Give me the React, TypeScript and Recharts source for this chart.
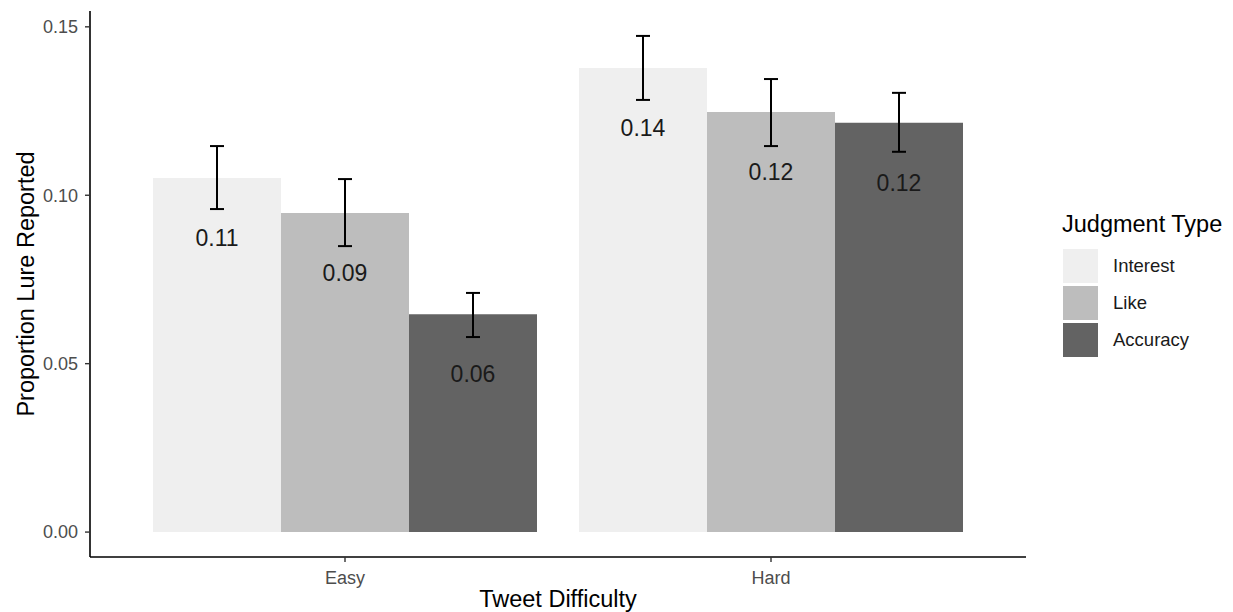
import React from 'react';
import { BarChart, Bar, XAxis, YAxis, ErrorBar, LabelList, Legend, Label } from 'recharts';

const categories = ['Easy', 'Hard'];
const seriesNames = ['Interest', 'Like', 'Accuracy'];
const seriesColors = ['#EFEFEF', '#BDBDBD', '#636363'];

const interestValues = [0.1051, 0.1378];
const interestLow = [0.0959, 0.1283];
const interestHigh = [0.1146, 0.1473];

const likeValues = [0.0947, 0.1247];
const likeLow = [0.0849, 0.1146];
const likeHigh = [0.1048, 0.1345];

const accuracyValues = [0.0647, 0.1215];
const accuracyLow = [0.0579, 0.1129];
const accuracyHigh = [0.071, 0.1304];

const yTicks = [0, 0.05, 0.1, 0.15];
const yDomain = [-0.0074, 0.1547];

const FONT = '"Liberation Sans", Arial, Helvetica, sans-serif';

const seriesValues = [interestValues, likeValues, accuracyValues];
const seriesLow = [interestLow, likeLow, accuracyLow];
const seriesHigh = [interestHigh, likeHigh, accuracyHigh];

const data = categories.map((cat, i) => {
  const row: any = { cat };
  seriesNames.forEach((name, s) => {
    const v = seriesValues[s][i];
    row[name] = v;
    row[name + '_err'] = [v - seriesLow[s][i], seriesHigh[s][i] - v];
  });
  return row;
});

const renderValueLabel = (props: any) => {
  const { x, y, width, value } = props;
  return (
    <text
      x={Number(x) + Number(width) / 2}
      y={Number(y) + 60}
      textAnchor="middle"
      dominantBaseline="central"
      fontSize={23}
      fontFamily={FONT}
      fill="#1a1a1a"
    >
      {Number(value).toFixed(2)}
    </text>
  );
};

const renderLegend = (props: any) => {
  const payload = [...(props.payload || [])].sort(
    (a: any, b: any) => seriesNames.indexOf(a.value) - seriesNames.indexOf(b.value)
  );
  return (
    <div style={{ fontFamily: FONT, color: '#000' }}>
      <div style={{ fontSize: 23.5, lineHeight: '26px', marginBottom: 10, whiteSpace: 'nowrap' }}>Judgment Type</div>
      {payload.map((p: any, i: number) => (
        <div key={i} style={{ display: 'flex', alignItems: 'center', height: 37 }}>
          <div style={{ width: 35, height: 34, background: p.color, marginRight: 15, marginLeft: 1 }} />
          <span style={{ fontSize: 18.5, color: '#1a1a1a' }}>{p.value}</span>
        </div>
      ))}
    </div>
  );
};

const YTitle = (props: any) => {
  const vb = props.viewBox || { x: 0, y: 0, width: 0, height: 0 };
  const x = vb.x + 34;
  const y = vb.y + vb.height / 2;
  return (
    <text
      x={x}
      y={y}
      transform={`rotate(-90, ${x}, ${y})`}
      textAnchor="middle"
      fontSize={23.5}
      fontFamily={FONT}
      fill="#000"
    >
      Proportion Lure Reported
    </text>
  );
};

const XTitle = (props: any) => {
  const vb = props.viewBox || { x: 0, y: 0, width: 0, height: 0 };
  return (
    <text
      x={vb.x + vb.width / 2}
      y={vb.y + 50}
      textAnchor="middle"
      fontSize={23.5}
      fontFamily={FONT}
      fill="#000"
    >
      Tweet Difficulty
    </text>
  );
};

export default function App() {
  return (
    <div style={{ position: 'absolute', left: 0, top: 0, width: 1233, height: 612, background: '#fff' }}>
      <BarChart
        width={1233}
        height={612}
        data={data}
        margin={{ top: 11, right: 207, bottom: 0, left: 0 }}
        barCategoryGap={21}
        barGap={0}
      >
        <XAxis
          dataKey="cat"
          padding={{ left: 42, right: 42 }}
          height={55}
          axisLine={{ stroke: '#000', strokeWidth: 1.6 }}
          tickLine={{ stroke: '#333', strokeWidth: 1.4 }}
          tickSize={5}
          tickMargin={9}
          tick={{ fontSize: 18, fill: '#4d4d4d', fontFamily: FONT }}
        >
          <Label content={<XTitle />} />
        </XAxis>
        <YAxis
          type="number"
          width={90}
          domain={yDomain}
          allowDataOverflow
          ticks={yTicks}
          tickFormatter={(v: number) => v.toFixed(2)}
          axisLine={{ stroke: '#000', strokeWidth: 1.6 }}
          tickLine={{ stroke: '#333', strokeWidth: 1.4 }}
          tickSize={5}
          tickMargin={7}
          tick={{ fontSize: 18, fill: '#4d4d4d', fontFamily: FONT }}
        >
          <Label content={<YTitle />} />
        </YAxis>
        <Legend
          layout="vertical"
          verticalAlign="middle"
          align="center"
          content={renderLegend}
          wrapperStyle={{ position: 'absolute', left: 1062, top: 211, width: 171 }}
        />
        {seriesNames.map((name, s) => (
          <Bar key={name} dataKey={name} name={name} fill={seriesColors[s]} isAnimationActive={false}>
            <ErrorBar dataKey={name + '_err'} width={7} stroke="#000" strokeWidth={2} direction="y" />
            <LabelList dataKey={name} content={renderValueLabel} />
          </Bar>
        ))}
      </BarChart>
    </div>
  );
}
